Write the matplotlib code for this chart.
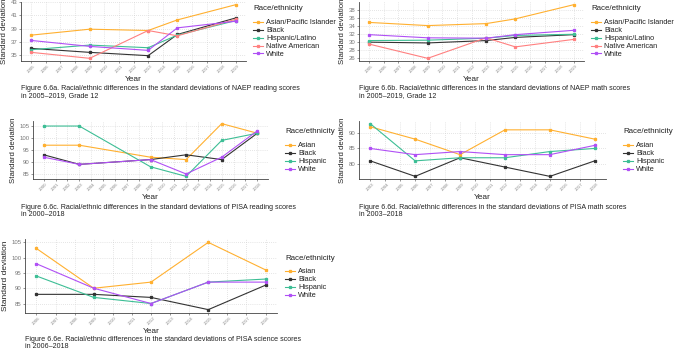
import matplotlib
matplotlib.use("Agg")
import matplotlib.pyplot as plt
import numpy as np

plt.rcParams['font.family'] = ['Liberation Sans', 'DejaVu Sans']

W, H = 676, 355

# ---------------- data ----------------
naep_years = [2005, 2009, 2013, 2015, 2019]
naep_groups = ["Asian/Pacific Islander", "Black", "Hispanic/Latino", "Native American", "White"]
naep_read_asian = [38.0, 38.9, 38.7, 40.3, 42.6]
naep_read_black = [36.0, 35.4, 34.9, 38.1, 40.6]
naep_read_hisp = [35.8, 36.5, 36.1, 38.0, 40.2]
naep_read_native = [35.4, 34.5, 38.7, 37.9, 40.4]
naep_read_white = [37.2, 36.3, 35.7, 39.1, 40.1]

naep_math_asian = [34.9, 34.1, 34.6, 35.8, 39.4]
naep_math_black = [29.9, 29.7, 30.3, 31.1, 31.8]
naep_math_hisp = [30.3, 30.4, 30.9, 31.6, 31.9]
naep_math_native = [29.4, 25.8, 31.0, 28.7, 30.6]
naep_math_white = [31.8, 31.0, 30.9, 31.8, 32.9]

pisa_groups = ["Asian", "Black", "Hispanic", "White"]
pisa_read_years = [2000, 2003, 2009, 2012, 2015, 2018]
pisa_read_asian = [97, 97, 92, 91, 106, 102]
pisa_read_black = [93, 89, 91, 93, 91, 102]
pisa_read_hisp = [105, 105, 88, 84, 99, 102]
pisa_read_white = [92, 89, 91, 85, 92, 103]

pisa_math_years = [2003, 2006, 2009, 2012, 2015, 2018]
pisa_math_asian = [92, 88, 83, 91, 91, 88]
pisa_math_black = [81, 76, 82, 79, 76, 81]
pisa_math_hisp = [93, 81, 82, 82, 84, 85]
pisa_math_white = [85, 83, 84, 83, 83, 86]

pisa_sci_years = [2006, 2009, 2012, 2015, 2018]
pisa_sci_asian = [103, 90, 92, 105, 96]
pisa_sci_black = [88, 88, 87, 83, 91]
pisa_sci_hisp = [94, 87, 85, 92, 93]
pisa_sci_white = [98, 90, 85, 92, 92]

captions = [
    "Figure 6.6a. Racial/ethnic differences in the standard deviations of NAEP reading scores\nin 2005\u20132019, Grade 12",
    "Figure 6.6b. Racial/ethnic differences in the standard deviations of NAEP math scores\nin 2005\u20132019, Grade 12",
    "Figure 6.6c. Racial/ethnic differences in the standard deviations of PISA reading scores\nin 2000\u20132018",
    "Figure 6.6d. Racial/ethnic differences in the standard deviations of PISA math scores\nin 2003\u20132018",
    "Figure 6.6e. Racial/ethnic differences in the standard deviations of PISA science scores\nin 2006\u20132018",
]

C_ASIAN = "#FFB030"
C_BLACK = "#333333"
C_HISP = "#3DBE95"
C_NATIVE = "#FF8080"
C_WHITE = "#B050F5"

fig = plt.figure(figsize=(W / 100, H / 100), dpi=100)
fig.patch.set_facecolor("white")


def px_axes(left, top, right, bottom):
    return fig.add_axes([left / W, 1 - bottom / H, (right - left) / W, (bottom - top) / H])


def draw_panel(box, years_range, years, series, labels, colors, yticks, caption, cap_xy, legend_xy,
               ylab_size=5.6):
    ax = px_axes(*box)
    for vals, lab, col in zip(series, labels, colors):
        ax.plot(years, vals, color=col, lw=0.8, marker='s', ms=1.4, label=lab)
    all_years = list(range(years_range[0], years_range[1] + 1))
    ax.set_xticks(all_years)
    ax.set_xticklabels([str(y) for y in all_years], rotation=45, fontsize=3.2, color="#888888")
    ax.set_yticks(yticks)
    ax.set_yticklabels([str(t) for t in yticks], fontsize=4.3, color="#777777")
    ax.grid(True, linestyle=(0, (1, 2)), color="#cccccc", lw=0.5)
    ax.set_axisbelow(True)
    for s in ["top", "right"]:
        ax.spines[s].set_visible(False)
    for s in ["left", "bottom"]:
        ax.spines[s].set_color("#444444")
        ax.spines[s].set_linewidth(0.6)
    ax.tick_params(length=1.5, width=0.4, pad=1, color="#444444")
    ax.set_xlabel("Year", fontsize=6, labelpad=1, color="#222222")
    ax.set_ylabel("Standard deviation", fontsize=ylab_size, labelpad=2, color="#222222")
    ax.margins(x=0.05, y=0.05)
    lx, ly = legend_xy  # title left x, title center y
    fig.text(lx / W, 1 - ly / H, "Race/ethnicity", fontsize=5.7, ha="left", va="center",
             color="#222222")
    first_top = ly + 14 - 3.7
    leg = ax.legend(loc="upper left", bbox_to_anchor=(lx / W, 1 - first_top / H),
                    bbox_transform=fig.transFigure,
                    frameon=False, fontsize=5.3, borderpad=0,
                    handlelength=1.3, handletextpad=0.5, labelspacing=0.1, borderaxespad=0)
    for t in leg.get_texts():
        t.set_color("#222222")
    fig.text(cap_xy[0] / W, 1 - cap_xy[1] / H, caption, fontsize=5.15, va="top", ha="left",
             color="#222222", linespacing=1.1)
    return ax


naep_colors = [C_ASIAN, C_BLACK, C_HISP, C_NATIVE, C_WHITE]
pisa_colors = [C_ASIAN, C_BLACK, C_HISP, C_WHITE]

draw_panel((21, 2, 246, 61), (2005, 2019), naep_years,
           [naep_read_asian, naep_read_black, naep_read_hisp, naep_read_native, naep_read_white],
           naep_groups, naep_colors, [35, 37, 39, 41, 43], captions[0], (21, 85), (253, 9))

draw_panel((359, 2, 584, 61), (2005, 2019), naep_years,
           [naep_math_asian, naep_math_black, naep_math_hisp, naep_math_native, naep_math_white],
           naep_groups, naep_colors, [26, 28, 30, 32, 34, 36, 38], captions[1], (359, 85), (591, 9))

draw_panel((33, 121, 268, 179), (2000, 2018), pisa_read_years,
           [pisa_read_asian, pisa_read_black, pisa_read_hisp, pisa_read_white],
           pisa_groups, pisa_colors, [85, 90, 95, 100, 105], captions[2], (21, 204), (285, 132))

draw_panel((359, 121, 606, 179), (2003, 2018), pisa_math_years,
           [pisa_math_asian, pisa_math_black, pisa_math_hisp, pisa_math_white],
           pisa_groups, pisa_colors, [80, 85, 90], captions[3], (359, 204), (623, 132))

draw_panel((25, 239, 277, 313), (2006, 2018), pisa_sci_years,
           [pisa_sci_asian, pisa_sci_black, pisa_sci_hisp, pisa_sci_white],
           pisa_groups, pisa_colors, [85, 90, 95, 100, 105], captions[4], (25, 336), (285, 258),
           ylab_size=6)

fig.savefig("out.png", dpi=100, facecolor="white")
